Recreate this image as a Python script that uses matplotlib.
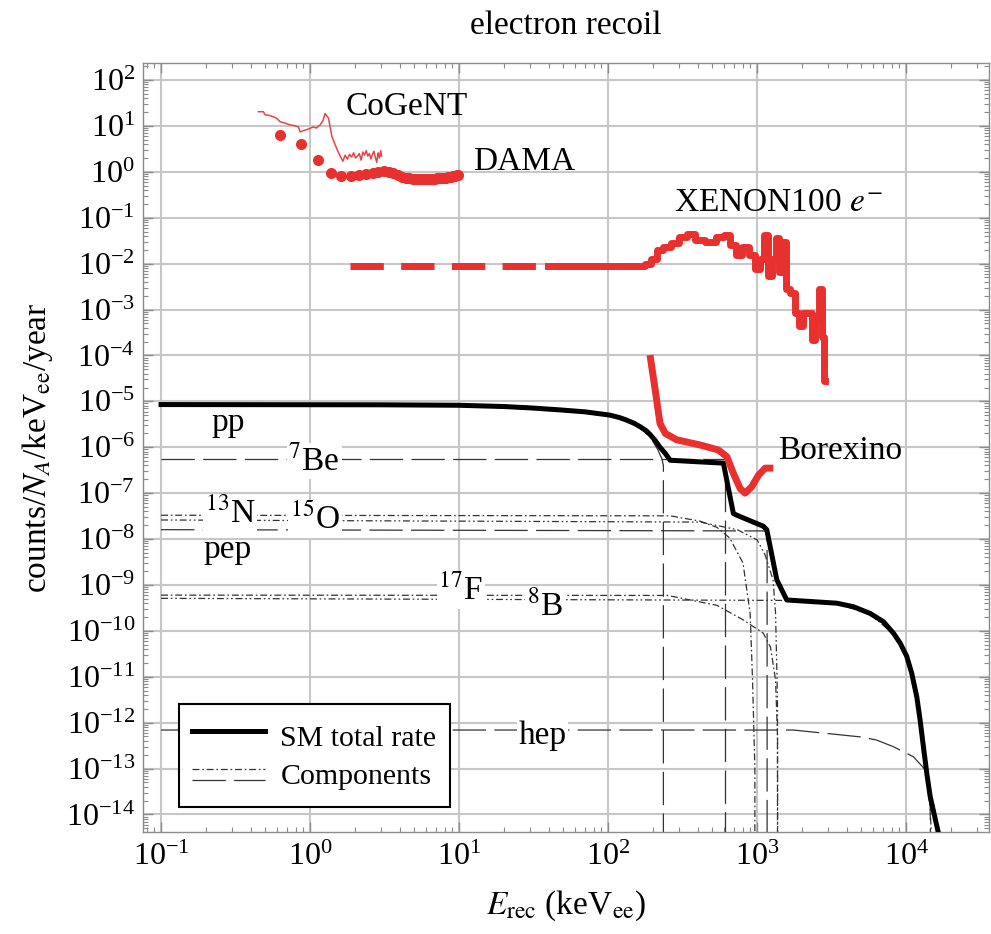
import matplotlib
matplotlib.use("Agg")
import matplotlib.pyplot as plt
import numpy as np
from matplotlib.lines import Line2D
from matplotlib.legend_handler import HandlerBase
from matplotlib.ticker import LogLocator, NullFormatter

plt.rcParams['font.family'] = ['Liberation Serif', 'DejaVu Serif']
plt.rcParams['mathtext.fontset'] = 'stix'
plt.rcParams['lines.scale_dashes'] = False

RED = '#e8302f'
INK = '0.2'
LONG = (0, (24, 6))
DASHDOT = (0, (5, 2, 1.2, 2))
DASHDOTDOT = (0, (5, 2, 1.2, 2, 1.2, 2))

# SM total rate (keV, counts/N_A/keV_ee/year)
total_E = [0.1, 3, 10, 20, 30, 47.6, 70.1, 103, 120, 133, 150, 164, 180, 191, 207, 223,
           243, 261, 594, 693, 731, 1100, 1161, 1355, 1581, 3428, 4433, 5728, 7043, 8222,
           9120, 10090, 10910, 11800, 12410, 13060, 13760, 14490, 16480]
total_R = [8.5e-6, 8.4e-6, 8.2e-6, 7.7e-6, 7.2e-6, 6.5e-6, 5.9e-6, 5.0e-6, 4.4e-6, 3.9e-6,
           3.3e-6, 2.8e-6, 2.3e-6, 1.9e-6, 1.4e-6, 1.0e-6, 7.2e-7, 5.2e-7, 4.5e-7, 3.6e-8,
           3.3e-8, 1.9e-8, 1.6e-8, 1.3e-9, 4.7e-10, 4.0e-10, 3.35e-10, 2.4e-10, 1.58e-10,
           8.9e-11, 5.4e-11, 2.8e-11, 1.18e-11, 3.6e-12, 1.14e-12, 3.0e-13, 7.9e-14,
           2.5e-14, 3.9e-15]

# neutrino components
pp_E = [0.1, 10, 48, 103, 133, 164, 191, 215, 230, 235, 235]
pp_R = [8.3e-6, 8.0e-6, 6.3e-6, 4.8e-6, 3.7e-6, 2.6e-6, 1.7e-6, 9e-7, 5.5e-7, 4e-7, 1e-16]
be7_E = [0.1, 610, 610]
be7_R = [5.5e-7, 5.5e-7, 1e-16]
n13_E = [0.1, 261, 415, 537, 655, 804, 898, 932, 966, 966]
n13_R = [3.3e-8, 3.2e-8, 2.45e-8, 1.8e-8, 1.05e-8, 3.0e-9, 2.4e-10, 8.5e-12, 1e-13, 1e-16]
o15_E = [0.1, 415, 735, 1000, 1132, 1280, 1330, 1370, 1375]
o15_R = [2.6e-8, 2.34e-8, 1.6e-8, 9.6e-9, 4.5e-9, 1.28e-9, 2.4e-10, 3.2e-12, 1e-16]
pep_E = [0.1, 1167, 1167]
pep_R = [1.6e-8, 1.5e-8, 1e-16]
f17_E = [0.1, 250, 537, 804, 1100, 1230, 1330, 1370, 1370]
f17_R = [6.0e-10, 5.9e-10, 3.6e-10, 1.74e-10, 8.9e-11, 4.4e-11, 8.5e-12, 5e-13, 1e-16]
b8_E = [0.1, 1580, 3430, 5730, 8220, 10090, 11800, 13060, 14490, 15500]
b8_R = [5.1e-10, 4.6e-10, 3.9e-10, 2.3e-10, 8.5e-11, 2.6e-11, 3.3e-12, 2.6e-13, 1.5e-14, 1e-16]
hep_E = [0.1, 1750, 4900, 6300, 8200, 11200, 13500, 14500, 14700]
hep_R = [6.9e-13, 6.9e-13, 4.9e-13, 4.2e-13, 3.0e-13, 1.8e-13, 9.3e-14, 1.5e-14, 1e-16]

# experiments
cogent_E = [0.45, 0.486, 0.50, 0.53, 0.568, 0.60, 0.63, 0.68, 0.735, 0.78, 0.836, 0.857,
            0.925, 0.98, 1.047, 1.10, 1.167, 1.22, 1.26, 1.33, 1.40, 1.46, 1.51, 1.58,
            1.66, 1.72, 1.78, 1.84, 1.90, 1.96, 2.02, 2.08, 2.14, 2.20, 2.26, 2.32, 2.38,
            2.44, 2.50, 2.56, 2.62, 2.68, 2.74, 2.80, 2.86, 2.92, 2.98, 3.02]
cogent_R = [20.4, 20.4, 17.4, 17.0, 15.8, 14.5, 12.3, 11.5, 10.5, 10.2, 9.5, 7.4, 8.1,
            8.6, 9.5, 9.0, 10.5, 13.0, 18.6, 14.8, 5.9, 4.2, 3.2, 2.3, 1.7, 2.3, 1.9, 2.4,
            2.1, 2.6, 2.0, 2.2, 2.5, 1.8, 2.7, 2.3, 2.9, 2.2, 2.5, 1.9, 2.4, 2.8, 2.1, 1.6,
            2.6, 2.0, 2.9, 2.2]

dama_E = [0.625, 0.875, 1.125, 1.375, 1.625, 1.875, 2.125, 2.375, 2.625, 2.875, 3.125,
          3.375, 3.625, 3.875, 4.125, 4.375, 4.625, 4.875, 5.125, 5.375, 5.625, 5.875,
          6.125, 6.375, 6.625, 6.875, 7.125, 7.375, 7.625, 7.875, 8.125, 8.375, 8.625,
          8.875, 9.125, 9.375, 9.625, 9.875]
dama_R = [6.3, 4.1, 1.8, 0.93, 0.82, 0.80, 0.85, 0.90, 0.95, 1.0, 1.02, 1.0, 0.93, 0.85,
          0.78, 0.74, 0.72, 0.71, 0.70, 0.70, 0.70, 0.70, 0.70, 0.70, 0.71, 0.71, 0.72,
          0.72, 0.73, 0.74, 0.75, 0.76, 0.77, 0.78, 0.80, 0.82, 0.84, 0.86]

xenon_low_E = [1.86, 39.5]
xenon_low_R = [8.9e-3, 8.9e-3]
xenon_E = [39.5, 171, 182, 206, 219, 247, 279, 316, 357, 404, 484, 582, 619, 700, 743, 839,
           920, 1009, 1074, 1140, 1213, 1288, 1371, 1455, 1549, 1596, 1750, 1862, 1977,
           2104, 2301, 2377, 2523, 2685, 2767, 2851]
xenon_R = [8.9e-3, 8.9e-3, 1.0e-2, 1.29e-2, 1.98e-2, 2.34e-2, 2.78e-2, 3.72e-2, 4.41e-2,
           3.30e-2, 3.03e-2, 3.72e-2, 4.27e-2, 2.55e-2, 1.53e-2, 2.34e-2, 1.53e-2, 7.7e-3,
           1.29e-2, 4.27e-2, 5.5e-3, 1.29e-2, 3.6e-2, 6.5e-3, 3.03e-2, 2.78e-3, 2.34e-3,
           8.4e-4, 4.3e-4, 8.4e-4, 8.4e-4, 2.15e-4, 6.0e-4, 2.78e-3, 2.55e-4, 2.8e-5]

borexino_E = [191, 207, 223, 242, 289, 414, 550, 627, 693, 769, 830, 920, 1021, 1132, 1285]
borexino_R = [1.02e-4, 1.78e-5, 3.3e-6, 2.0e-6, 1.45e-6, 1.12e-6, 8.7e-7, 6.2e-7, 2.7e-7,
              1.26e-7, 1.0e-7, 1.38e-7, 2.45e-7, 3.5e-7, 3.5e-7]


class StackedLines(HandlerBase):
    # two component samples stacked in one legend row
    def create_artists(self, legend, orig_handle, xdescent, ydescent,
                       width, height, fontsize, trans):
        out = []
        for h, off in zip(orig_handle, (0.2, -0.2)):
            y = 0.5 * height + off * fontsize - ydescent
            ln = Line2D([-xdescent, width - xdescent], [y, y])
            ln.update_from(h)
            ln.set_transform(trans)
            out.append(ln)
        return out


fig = plt.figure(figsize=(9.91, 9.34), dpi=100)
ax = fig.add_axes([0.1446, 0.1095, 0.8534, 0.8227])
ax.set_xscale('log')
ax.set_yscale('log')
ax.set_xlim(0.076, 3.6e4)
ax.set_ylim(4.2e-15, 231)

# components
thin = dict(color=INK, lw=0.9)
ax.plot(pp_E, pp_R, ls=LONG, **thin)
ax.plot(be7_E, be7_R, ls=LONG, **thin)
ax.plot(n13_E, n13_R, ls=DASHDOT, **thin)
ax.plot(o15_E, o15_R, ls=DASHDOTDOT, **thin)
ax.plot(pep_E, pep_R, ls=LONG, **thin)
ax.plot(f17_E, f17_R, ls=DASHDOT, **thin)
ax.plot(b8_E, b8_R, ls=DASHDOTDOT, **thin)
ax.plot(hep_E, hep_R, ls=LONG, **thin)

total_line, = ax.plot(total_E, total_R, color='black', lw=3.6,
                      solid_joinstyle='round', zorder=4)

# experiments
ax.plot(cogent_E, cogent_R, color='#e54545', lw=1.1, zorder=5)
ax.plot(dama_E, dama_R, 'o', color=RED, ms=8, mew=0, zorder=5)
ax.plot(xenon_low_E, xenon_low_R, color=RED, lw=5, ls=(0, (24, 12.5)),
        dash_capstyle='butt', zorder=5)
ax.plot(xenon_E, xenon_R, color=RED, lw=5, drawstyle='steps-mid', zorder=5)
ax.plot(borexino_E, borexino_R, color=RED, lw=5, solid_capstyle='butt',
        solid_joinstyle='round', zorder=5)

# labels
fs = 24
wbox = dict(boxstyle='square,pad=0.05', fc='white', ec='none')
ax.text(1.72, 17.3, 'CoGeNT', fontsize=fs, zorder=6)
ax.text(12.5, 1.09, 'DAMA', fontsize=fs, zorder=6)
ax.text(279, 0.14, r'XENON100 $e^{-}$', fontsize=fs, zorder=6)
ax.text(1390, 5.5e-7, 'Borexino', fontsize=fs, zorder=6)
ax.text(0.219, 2.3e-6, 'pp', fontsize=fs, zorder=6)
ax.text(0.715, 3.2e-7, r'$^{7}$Be', fontsize=fs, bbox=wbox, zorder=3)
ax.text(0.197, 2.2e-8, r'$^{13}$N', fontsize=fs, bbox=wbox, zorder=3)
ax.text(0.734, 1.6e-8, r'$^{15}$O', fontsize=fs, bbox=wbox, zorder=3)
ax.text(0.192, 3.8e-9, 'pep', fontsize=fs, zorder=3)
ax.text(7.26, 4.7e-10, r'$^{17}$F', fontsize=fs, bbox=wbox, zorder=3)
ax.text(28.5, 2.2e-10, r'$^{8}$B', fontsize=fs, bbox=wbox, zorder=3)
ax.text(25.0, 3.5e-13, 'hep', fontsize=fs, bbox=wbox, zorder=3)

# axes styling
ax.xaxis.set_major_locator(LogLocator(base=10, numticks=30))
ax.yaxis.set_major_locator(LogLocator(base=10, numticks=30))
ax.xaxis.set_minor_locator(LogLocator(base=10, subs=np.arange(2, 10), numticks=30))
ax.yaxis.set_minor_locator(LogLocator(base=10, subs=np.arange(2, 10), numticks=30))
ax.xaxis.set_minor_formatter(NullFormatter())
ax.yaxis.set_minor_formatter(NullFormatter())
ax.tick_params(which='both', direction='in', top=True, right=True,
               color='0.55', labelcolor='black', labelsize=23)
ax.tick_params(which='major', length=7, width=1)
ax.tick_params(axis='x', which='major', pad=8)
ax.tick_params(axis='y', which='major', pad=6)
ax.tick_params(which='minor', length=3.5, width=0.8)
for sp in ax.spines.values():
    sp.set_color('0.55')
    sp.set_linewidth(1)
ax.grid(which='major', color='0.78', lw=1.5)
ax.set_axisbelow(True)

ax.set_title('electron recoil', fontsize=24, pad=21)
ax.set_xlabel(r'$E_{\mathrm{rec}}$ (keV$_{\mathrm{ee}}$)', fontsize=24, labelpad=12)
ax.set_ylabel(r'counts/$N_A$/keV$_{\mathrm{ee}}$/year', fontsize=24, labelpad=8)

comp = (Line2D([], [], color=INK, lw=0.9, ls=DASHDOT),
        Line2D([], [], color=INK, lw=0.9, ls=LONG))
leg = ax.legend([total_line, comp], ['SM total rate', 'Components'],
                handler_map={tuple: StackedLines()}, loc='lower left',
                bbox_to_anchor=(0.042, 0.032), borderaxespad=0, fontsize=21.5,
                frameon=True, fancybox=False, framealpha=1, edgecolor='black',
                handlelength=2.45, handleheight=1.6, handletextpad=0.5,
                labelspacing=0.0, borderpad=0.45)
leg.get_frame().set_linewidth(1.5)
leg.set_zorder(10)

fig.savefig('out.png', dpi=100)
